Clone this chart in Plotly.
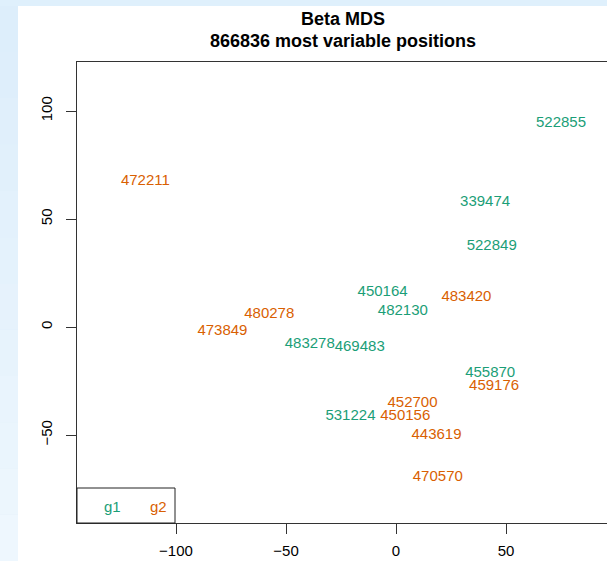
import plotly.graph_objects as go

# ---- data ----
g1_labels = ["522855", "339474", "522849", "450164", "482130", "483278", "469483", "455870", "531224"]
g1_x = [75.0, 40.5, 43.5, -6.1, 3.1, -39.2, -16.5, 42.8, -20.7]
g1_y = [94.3, 58.0, 37.6, 16.3, 7.1, -8.0, -9.4, -21.6, -41.2]

g2_labels = ["472211", "483420", "480278", "473849", "459176", "452700", "450156", "443619", "470570"]
g2_x = [-113.9, 32.0, -57.6, -78.9, 44.6, 7.5, 4.2, 18.4, 19.0]
g2_y = [67.7, 13.7, 5.9, -1.85, -27.3, -35.3, -41.2, -50.0, -69.3]

group_names = ["g1", "g2"]
group_colors = ["#1B9E77", "#D95F02"]

x_ticks = [-100, -50, 0, 50]
y_ticks = [-50, 0, 50, 100]

title_lines = ["Beta MDS", "866836 most variable positions"]

FONT = "Liberation Sans, Arial, Helvetica, sans-serif"

W, H = 607, 561
L, R, T, B = 77, 0, 62, 38
pw, ph = W - L - R, H - T - B

def px_to_paper_x(px):
    return (px - L) / pw

def py_to_paper_y(py):
    return (H - B - py) / ph

fig = go.Figure()
for lab, xs, ys, col, name in [(g1_labels, g1_x, g1_y, group_colors[0], group_names[0]),
                               (g2_labels, g2_x, g2_y, group_colors[1], group_names[1])]:
    fig.add_trace(go.Scatter(
        x=xs, y=ys, text=lab, mode="text", name=name,
        textposition="middle center",
        textfont=dict(family=FONT, size=15, color=col),
        showlegend=False, hoverinfo="text",
    ))

shapes = []
# page background: light blue band at left/top, white elsewhere
shapes.append(dict(type="rect", xref="paper", yref="paper",
                   x0=px_to_paper_x(0), x1=px_to_paper_x(W),
                   y0=py_to_paper_y(H), y1=py_to_paper_y(0),
                   fillcolor="#dff0fc", line=dict(width=0), layer="below"))
# left strip gradient approximation
n = 12
for i in range(n):
    t = i / (n - 1)
    r_ = int(0xdd + (0xee - 0xdd) * t)
    g_ = int(0xee + (0xf7 - 0xee) * t)
    b_ = int(0xfb + (0xfe - 0xfb) * t)
    y0 = 6 + (H - 6) * i / n
    y1 = 6 + (H - 6) * (i + 1) / n
    shapes.append(dict(type="rect", xref="paper", yref="paper",
                       x0=px_to_paper_x(0), x1=px_to_paper_x(18),
                       y0=py_to_paper_y(y1), y1=py_to_paper_y(y0),
                       fillcolor=f"rgb({r_},{g_},{b_})", line=dict(width=0), layer="below"))
shapes.append(dict(type="rect", xref="paper", yref="paper",
                   x0=px_to_paper_x(18), x1=px_to_paper_x(W),
                   y0=py_to_paper_y(H), y1=py_to_paper_y(6),
                   fillcolor="white", line=dict(width=0), layer="below"))
# legend box
shapes.append(dict(type="rect", xref="paper", yref="paper",
                   x0=0, x1=px_to_paper_x(175), y0=0, y1=py_to_paper_y(488),
                   fillcolor="rgba(0,0,0,0)", line=dict(color="#222222", width=1), layer="above"))

annotations = []
annotations.append(dict(xref="paper", yref="paper", x=px_to_paper_x(343), y=py_to_paper_y(19),
                        text="<b>%s</b>" % title_lines[0], showarrow=False,
                        font=dict(family=FONT, size=18, color="black"),
                        xanchor="center", yanchor="middle"))
annotations.append(dict(xref="paper", yref="paper", x=px_to_paper_x(343), y=py_to_paper_y(41),
                        text="<b>%s</b>" % title_lines[1], showarrow=False,
                        font=dict(family=FONT, size=18, color="black"),
                        xanchor="center", yanchor="middle"))
for name, col, pxx in zip(group_names, group_colors, [112.5, 158.2]):
    annotations.append(dict(xref="paper", yref="paper", x=px_to_paper_x(pxx), y=py_to_paper_y(506.5),
                            text=name, showarrow=False,
                            font=dict(family=FONT, size=15, color=col),
                            xanchor="center", yanchor="middle"))

fig.update_layout(
    width=W, height=H,
    margin=dict(l=L, r=R, t=T, b=B, pad=0),
    paper_bgcolor="white", plot_bgcolor="white",
    shapes=shapes, annotations=annotations,
    xaxis=dict(range=[-145.0, 95.9], tickvals=x_ticks, ticktext=["\u2212100", "\u221250", "0", "50"],
               showgrid=False, zeroline=False, showline=True, mirror=True,
               linecolor="#333333", linewidth=1, ticks="outside", ticklen=10,
               tickcolor="#333333", tickfont=dict(family=FONT, size=15, color="black"),
               ticklabelstandoff=4),
    yaxis=dict(range=[-90.7, 122.7], tickvals=y_ticks, ticktext=["\u221250", "0", "50", "100"],
               showgrid=False, zeroline=False, showline=True, mirror=False,
               linecolor="#333333", linewidth=1, ticks="outside", ticklen=10,
               tickcolor="#333333", tickangle=-90,
               tickfont=dict(family=FONT, size=15, color="black"),
               ticklabelstandoff=8),
)

fig.write_html("out.html", config={"displayModeBar": False},
               post_script="document.body.style.margin='0';")
